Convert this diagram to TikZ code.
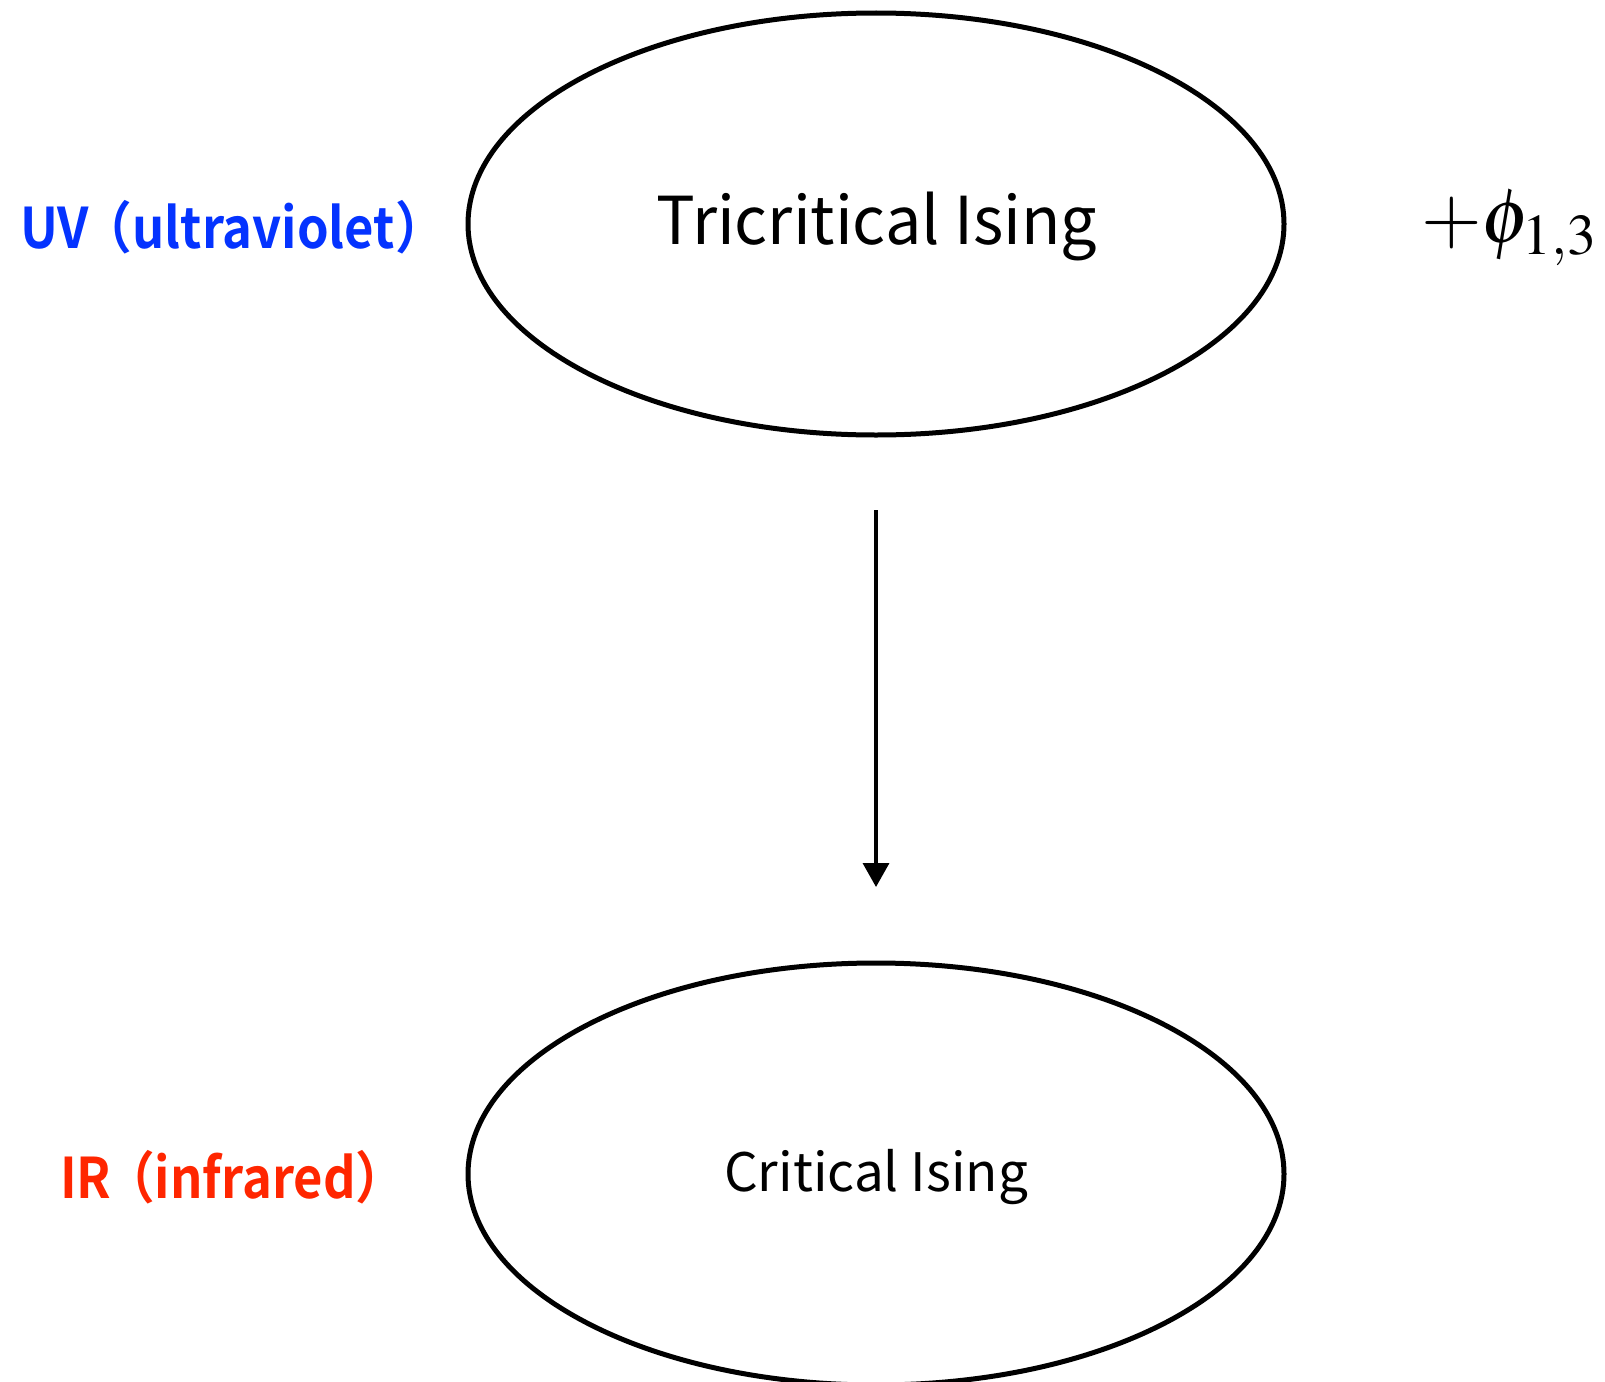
\documentclass[tikz,border=0pt]{standalone}
\usepackage{graphicx}
\usepackage{mathptmx}
\usepackage{fontspec}
\newfontfamily\cjk{Noto Sans CJK JP}
\newfontfamily\cjkbold{Noto Sans CJK JP Bold}
\usetikzlibrary{shapes.geometric,arrows.meta}
\definecolor{uvblue}{RGB}{4,51,255}
\definecolor{irred}{RGB}{255,38,0}
\tikzset{
  fixedpoint/.style={draw, line width=5pt, ellipse, minimum width=816pt, minimum height=422pt, inner sep=0pt},
  flowarrow/.style={line width=3.5pt, -{Triangle[length=24pt,width=26pt]}},
  scalelabel/.style={font=\cjkbold\fontsize{56}{58}\selectfont, anchor=west, inner sep=0pt},
}
% narrower setting for the bold side labels
\newcommand{\narrowlabel}[1]{\scalebox{0.905}[1]{#1}}
\begin{document}
\begin{tikzpicture}[x=1pt,y=-1pt]
\useasboundingbox[fill=white] (0,0) rectangle (1605,1381);
\node[fixedpoint] (tci) at (876,224) {};
\node[fixedpoint] (ci) at (876,1174) {};
\node[font=\cjk\fontsize{66}{68}\selectfont, inner sep=0pt] (tcilabel) at (877,226) {\scalebox{0.98}[1]{Tricritical Ising}};
\node[font=\cjk\fontsize{53}{55}\selectfont, inner sep=0pt] (cilabel) at (876,1177) {Critical Ising};
\node[scalelabel, text=uvblue] (uv) at (20,227) {\narrowlabel{UV\kern-8pt（ultraviolet）}};
\node[scalelabel, text=irred] (ir) at (60,1177) {\narrowlabel{IR\kern-8pt（infrared）}};
\node[anchor=west, inner sep=0pt, font=\fontsize{78}{80}\selectfont] (pert) at (1421,228) {$+\phi_{1,3}$};
\coordinate (from) at (876,510);
\coordinate (to) at (876,887);
\draw[flowarrow] (from) -- (to);
\end{tikzpicture}
\end{document}
